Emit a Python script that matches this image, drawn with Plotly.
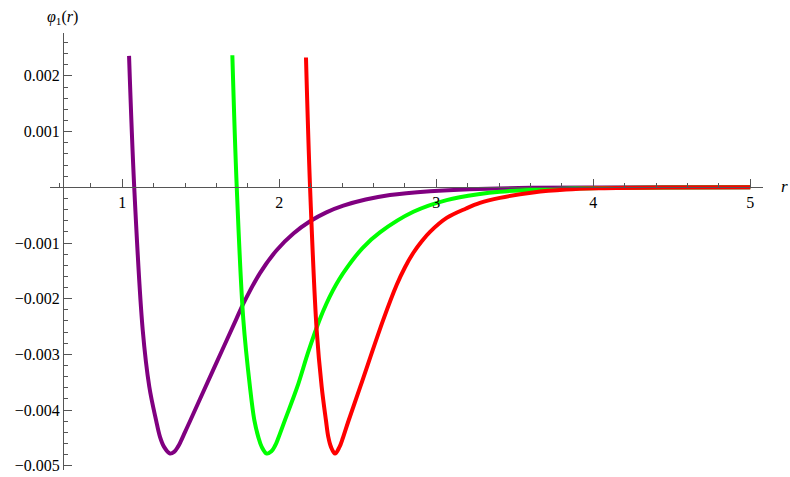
import plotly.graph_objects as go

# ---- data ----
purple_r = [1.043, 1.076, 1.130, 1.172, 1.215, 1.240, 1.266, 1.304, 1.330, 1.354, 1.371,
            1.400, 1.431, 1.495, 1.590, 1.724, 1.771, 1.877, 1.983, 2.09, 2.196, 2.30,
            2.408, 2.55, 2.705, 2.96, 3.214, 3.6, 4.04, 4.5, 5.0]
purple_v = [0.00236, 0.0, -0.00256, -0.00358, -0.00418, -0.00448, -0.00466, -0.00478,
            -0.00475, -0.00466, -0.00457, -0.00439, -0.00420, -0.00380, -0.00321,
            -0.00238, -0.00209, -0.00154, -0.00113, -0.00083, -0.00061, -0.00045,
            -0.00033, -0.00022, -0.000138, -0.00007, -0.000033, -0.00001, -0.000003,
            -0.000001, 0.0]

green_r = [1.701, 1.729, 1.771, 1.813, 1.841, 1.866, 1.888, 1.920, 1.950, 1.973, 1.994,
           2.036, 2.115, 2.185, 2.255, 2.30, 2.34, 2.38, 2.429, 2.53, 2.641, 2.854, 3.066,
           3.278, 3.405, 3.616, 4.04, 4.5, 5.0]
green_v = [0.00237, 0.0, -0.00238, -0.00358, -0.00418, -0.00448, -0.00466, -0.00478,
           -0.00474, -0.00464, -0.00450, -0.00418, -0.00358, -0.00295, -0.00239,
           -0.00209, -0.00186, -0.00166, -0.00145, -0.00109, -0.00081, -0.00044,
           -0.00023, -0.00012, -0.00008, -0.000043, -0.000012, -0.000003, 0.0]

red_r = [2.170, 2.196, 2.238, 2.270, 2.297, 2.312, 2.329, 2.355, 2.382, 2.405, 2.440,
         2.516, 2.662, 2.748, 2.80, 2.853, 2.91, 2.96, 3.066, 3.19, 3.278, 3.405,
         3.616, 3.826, 4.04, 4.5, 5.0]
red_v = [0.00233, 0.0, -0.00256, -0.00358, -0.00418, -0.00448, -0.00466, -0.00478,
         -0.00467, -0.00450, -0.00420, -0.00358, -0.00238, -0.00175, -0.00144,
         -0.00118, -0.00096, -0.00080, -0.00055, -0.00038, -0.00028, -0.00019,
         -0.000093, -0.00004, -0.000018, -0.000004, 0.0]

x_ticks = [1, 2, 3, 4, 5]
x_ticktext = ["1", "2", "3", "4", "5"]
x_minor = [0.6, 0.8, 1.2, 1.4, 1.6, 1.8, 2.2, 2.4, 2.6, 2.8, 3.2, 3.4, 3.6, 3.8,
           4.2, 4.4, 4.6, 4.8]
y_ticks = [0.002, 0.001, -0.001, -0.002, -0.003, -0.004, -0.005]
y_ticktext = ["0.002", "0.001", "\u22120.001", "\u22120.002", "\u22120.003",
              "\u22120.004", "\u22120.005"]
y_minor = [0.0026, 0.0024, 0.0022, 0.0018, 0.0016, 0.0014, 0.0012, 0.0008, 0.0006,
           0.0004, 0.0002, -0.0002, -0.0004, -0.0006, -0.0008, -0.0012, -0.0014,
           -0.0016, -0.0018, -0.0022, -0.0024, -0.0026, -0.0028, -0.0032, -0.0034,
           -0.0036, -0.0038, -0.0042, -0.0044, -0.0046, -0.0048]

x_range = [0.5395, 5.081]
y_range = [-0.005075, 0.00277]
y_axis_at = 0.622  # r value where the vertical axis sits

series = [
    (purple_r, purple_v, "#800080"),
    (green_r, green_v, "#00FF00"),
    (red_r, red_v, "#FF0000"),
]

fig = go.Figure()
for rr, vv, col in series:
    fig.add_trace(go.Scatter(x=rr, y=vv, mode="lines",
                             line=dict(color=col, width=4, shape="spline", smoothing=1.0),
                             showlegend=False, hoverinfo="skip"))

axis_col = "#555555"
font_fam = "Liberation Serif"

xpos = (0 - y_range[0]) / (y_range[1] - y_range[0])
ypos = (y_axis_at - x_range[0]) / (x_range[1] - x_range[0])

fig.update_layout(
    width=790, height=477,
    margin=dict(l=50, r=27, t=33, b=7),
    paper_bgcolor="white", plot_bgcolor="white",
    font=dict(family=font_fam, size=16, color="black"),
    xaxis=dict(range=x_range, anchor="free", position=xpos,
               showgrid=False, zeroline=False, showline=True,
               linecolor=axis_col, linewidth=1,
               tickmode="array", tickvals=x_ticks, ticktext=x_ticktext,
               ticks="inside", ticklen=8, tickcolor=axis_col, tickwidth=1,
               minor=dict(tickmode="array", tickvals=x_minor, ticks="inside",
                          ticklen=4, tickcolor=axis_col, tickwidth=1, showgrid=False),
               tickfont=dict(family=font_fam, size=16, color="black"),
               automargin=False),
    yaxis=dict(range=y_range, anchor="free", position=ypos,
               showgrid=False, zeroline=False, showline=True,
               linecolor=axis_col, linewidth=1,
               tickmode="array", tickvals=y_ticks, ticktext=y_ticktext,
               ticks="inside", ticklen=8, tickcolor=axis_col, tickwidth=1,
               minor=dict(tickmode="array", tickvals=y_minor, ticks="inside",
                          ticklen=4, tickcolor=axis_col, tickwidth=1, showgrid=False),
               tickfont=dict(family=font_fam, size=16, color="black"),
               automargin=False),
    annotations=[
        dict(text="<i>φ</i><sub>1</sub>(<i>r</i>)", xref="x", yref="paper",
             x=y_axis_at, y=1, xanchor="center", yanchor="bottom", yshift=4,
             showarrow=False, font=dict(family=font_fam, size=16, color="black")),
        dict(text="<i>r</i>", xref="paper", yref="y", x=1, y=0,
             xanchor="center", yanchor="middle", xshift=21, yshift=1,
             showarrow=False, font=dict(family=font_fam, size=17, color="black")),
    ],
)

fig.write_html("out.html", config={"displayModeBar": False},
               post_script="document.body.style.margin='0px';document.body.style.overflow='hidden';")
